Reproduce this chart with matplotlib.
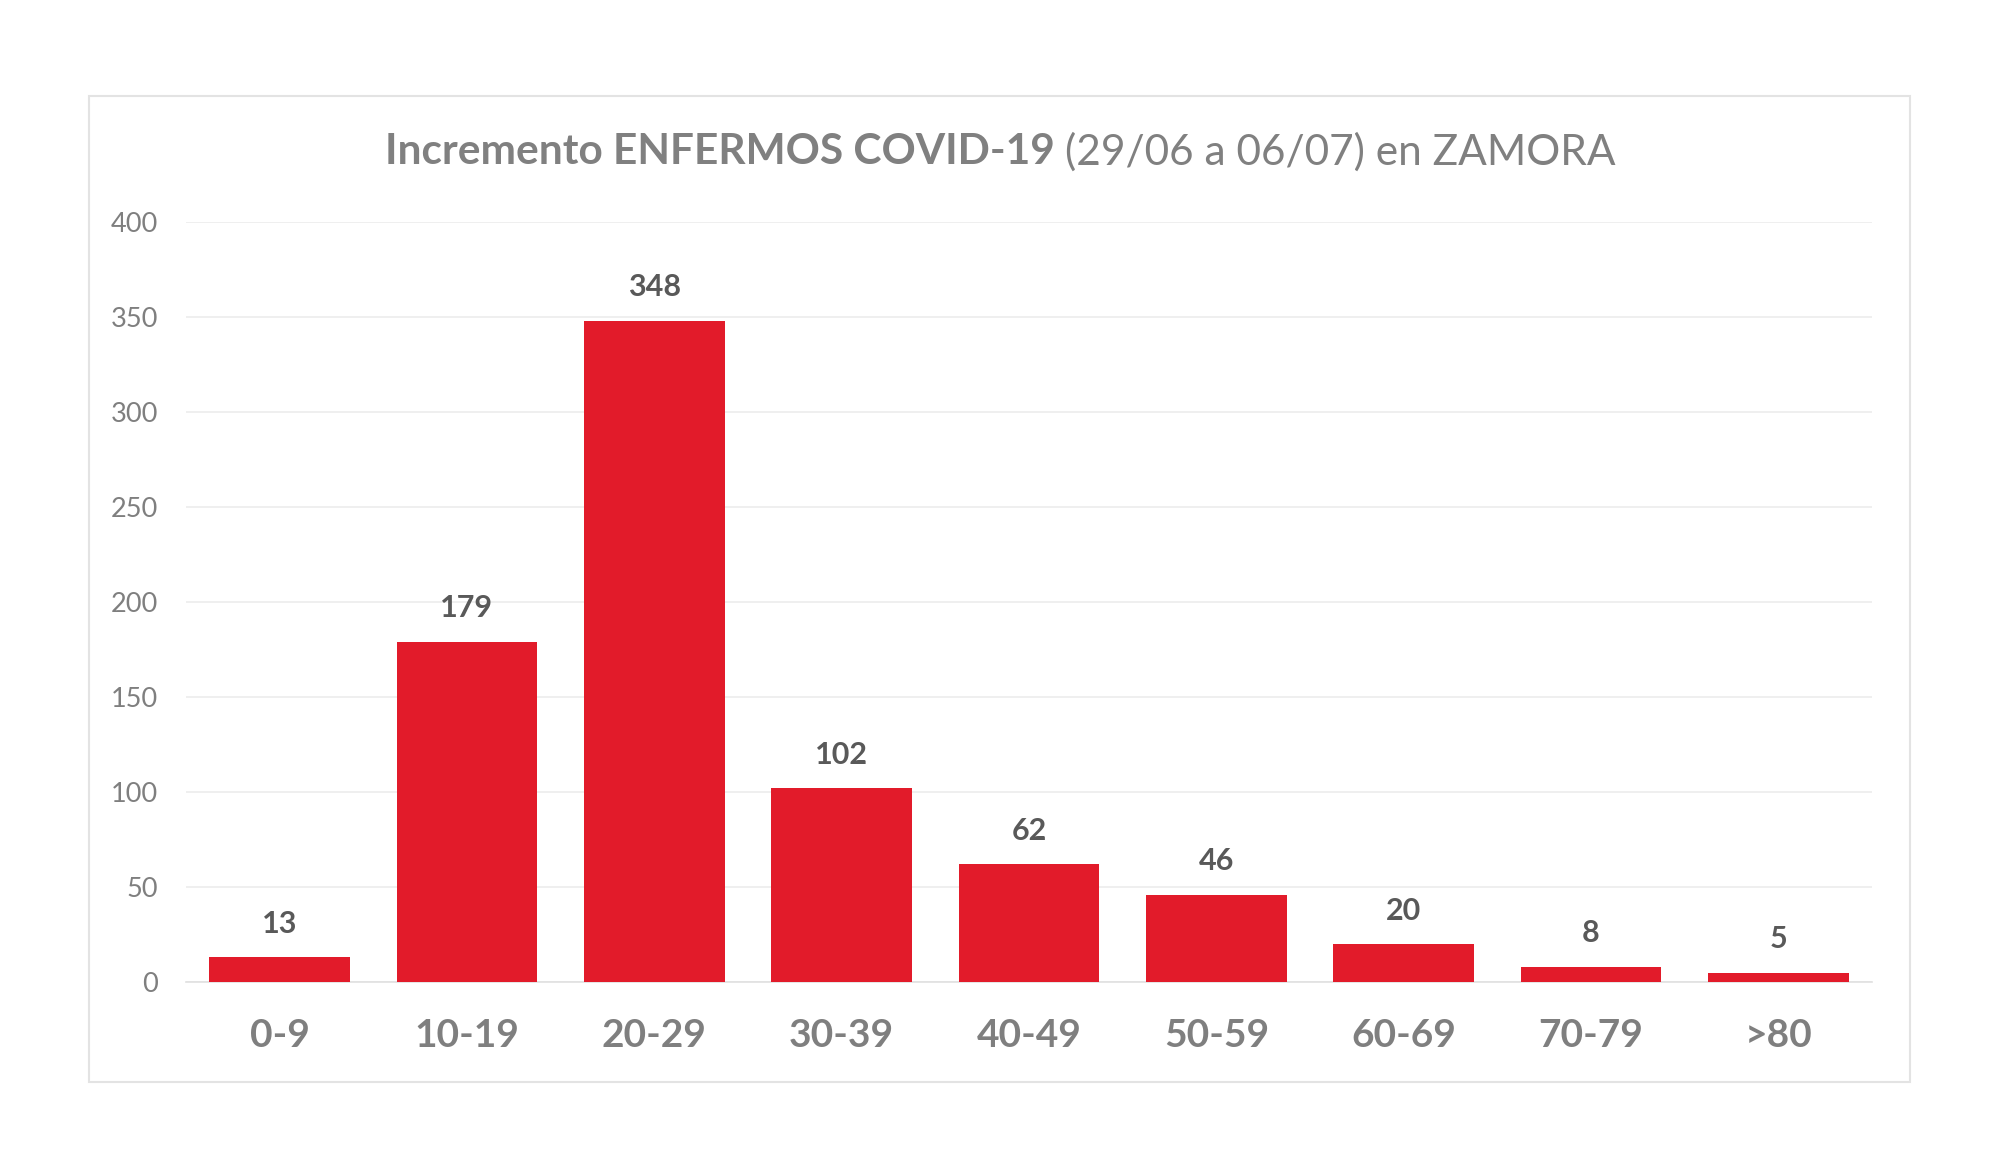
import matplotlib
matplotlib.use("Agg")
import matplotlib.pyplot as plt
from matplotlib.patches import Rectangle

categories = ["0-9", "10-19", "20-29", "30-39", "40-49", "50-59", "60-69", "70-79", ">80"]
values = [13, 179, 348, 102, 62, 46, 20, 8, 5]
yticks = [0, 50, 100, 150, 200, 250, 300, 350, 400]

plt.rcParams['font.family'] = ['Lato', 'DejaVu Sans']

W, H = 2000, 1175
fig = plt.figure(figsize=(20, 11.75), dpi=100)
fig.patch.set_facecolor('white')

# chart frame
fig.patches.append(Rectangle((89 / W, 1 - 1082 / H), (1910 - 89) / W, (1082 - 96) / H,
                             transform=fig.transFigure, fill=False, edgecolor='#e3e3e3', lw=1.5))

left, right, top, bottom = 186, 1872, 222, 982
ax = fig.add_axes([left / W, 1 - bottom / H, (right - left) / W, (bottom - top) / H])
x = list(range(len(categories)))
ax.bar(x, values, width=0.75, color='#e21b2a', zorder=3)
ax.set_xlim(-0.5, len(categories) - 0.5)
ax.set_ylim(0, 400)
ax.set_yticks(yticks)
ax.set_yticklabels([str(v) for v in yticks], color='#7f7f7f', fontsize=19.5)
ax.set_xticks(x)
ax.set_xticklabels(categories, color='#7f7f7f', fontsize=28, fontweight='bold')
ax.tick_params(axis='both', length=0)
ax.tick_params(axis='y', pad=20)
ax.tick_params(axis='x', pad=26)
ax.grid(axis='y', color='#ececec', lw=1.2, zorder=0)
for s in ['top', 'right', 'left']:
    ax.spines[s].set_visible(False)
ax.spines['bottom'].set_color('#e0e0e0')
ax.spines['bottom'].set_linewidth(1.2)

for xi, v in zip(x, values):
    ax.annotate(str(v), (xi, v), xytext=(0, 14), textcoords='offset points',
                ha='center', va='bottom', fontsize=22, fontweight='bold', color='#595959')

# title with mixed weights
t1 = fig.text(0, 0, "Incremento ENFERMOS COVID-19 ", fontsize=30.5, fontweight='bold', color='#808080')
t2 = fig.text(0, 0, "(29/06 a 06/07) en ZAMORA", fontsize=30.5, color='#808080')
fig.canvas.draw()
r = fig.canvas.get_renderer()
w1 = t1.get_window_extent(r).width
w2 = t2.get_window_extent(r).width
x0 = (W - (w1 + w2)) / 2
yc = 1 - 152 / H
t1.set_position((x0 / W, yc)); t1.set_va('center')
t2.set_position(((x0 + w1) / W, yc)); t2.set_va('center')

fig.savefig("out.png", dpi=100, facecolor='white')
